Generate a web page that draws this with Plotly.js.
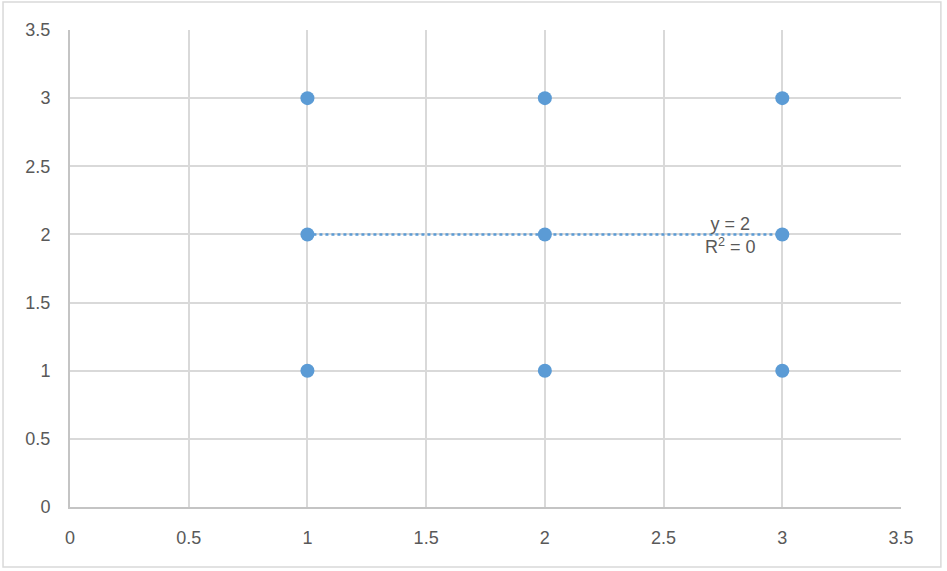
<!DOCTYPE html>
<html>
<head>
<meta charset="utf-8">
<script src="https://cdn.plot.ly/plotly-3.0.1.min.js"></script>
<style>html,body{margin:0;padding:0;background:#fff;}#chart{width:947px;height:571px;}</style>
</head>
<body>
<div id="chart"></div>
<script>
const xValues = [1, 1, 1, 2, 2, 2, 3, 3, 3];
const yValues = [1, 2, 3, 1, 2, 3, 1, 2, 3];
const trendX = [1, 3];
const trendY = [2, 2];
const trendLabel = "y = 2<br>R<sup>2</sup> = 0";
const tickVals = [0, 0.5, 1, 1.5, 2, 2.5, 3, 3.5];

const font = "Liberation Sans, Arial, sans-serif";
const data = [
  {x: trendX, y: trendY, type: "scatter", mode: "lines",
   line: {color: "#5b9bd5", width: 2.5, dash: "dot"}, hoverinfo: "skip"},
  {x: xValues, y: yValues, type: "scatter", mode: "markers",
   marker: {color: "#5b9bd5", size: 14}}
];
const axisCommon = {
  range: [0, 3.5], tickvals: tickVals, ticktext: tickVals.map(String),
  showgrid: true, gridcolor: "#d9d9d9", gridwidth: 2,
  showline: true, linecolor: "#c4c4c4", linewidth: 2,
  zeroline: false, ticks: "", fixedrange: true,
  tickfont: {family: font, size: 18, color: "#595959"}
};
const layout = {
  width: 947, height: 571,
  margin: {l: 70, r: 46, t: 30, b: 64},
  paper_bgcolor: "#ffffff", plot_bgcolor: "#ffffff",
  showlegend: false,
  xaxis: Object.assign({}, axisCommon, {ticklabelstandoff: 13}),
  yaxis: Object.assign({}, axisCommon, {ticklabelstandoff: 14}),
  annotations: [{
    x: 2.78, y: 1.99, xref: "x", yref: "y", text: trendLabel, showarrow: false,
    font: {family: font, size: 18, color: "#595959"}, align: "center"
  }],
  shapes: [{
    type: "rect", xref: "paper", yref: "paper",
    x0: -0.0806, x1: 1.048, y0: -0.1258, y1: 1.0587,
    line: {color: "#d9d9d9", width: 1.5}, layer: "below"
  }]
};
Plotly.newPlot("chart", data, layout, {displayModeBar: false, staticPlot: true});
</script>
</body>
</html>
